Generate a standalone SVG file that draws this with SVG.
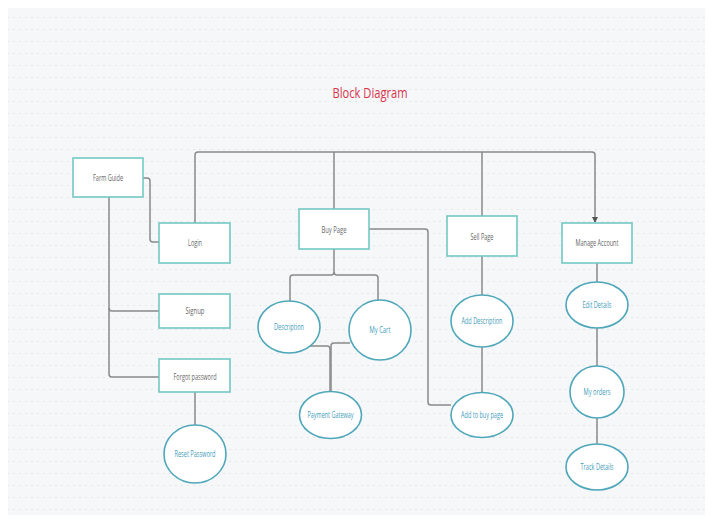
<svg xmlns="http://www.w3.org/2000/svg" width="713" height="526" viewBox="0 0 713 526">
<defs>
<pattern id="dots" x="0" y="0" width="6" height="12" patternUnits="userSpaceOnUse">
<rect x="1" y="5" width="2" height="1" fill="#e4e6ea"/>
</pattern>
<marker id="arr" markerWidth="6" markerHeight="6" refX="5" refY="3" orient="auto" markerUnits="userSpaceOnUse">
<path d="M0,0 L6,3 L0,6 Z" fill="#555"/>
</marker>
<style>
.box{fill:#ffffff;stroke:#72c8c3;stroke-width:1.6}
.ell{fill:#ffffff;stroke:#4fa7ba;stroke-width:1.6}
.bt{font-family:"Open Sans","Liberation Sans",sans-serif;font-size:8.5px;fill:#666;text-anchor:middle}
.et{font-family:"Open Sans","Liberation Sans",sans-serif;font-size:8.5px;fill:#3f9cba;text-anchor:middle}
.ln{fill:none;stroke:#8a8a8a;stroke-width:1.5}
</style>
</defs>
<rect x="0" y="0" width="713" height="526" fill="#ffffff"/>
<rect x="8" y="8" width="697" height="507" fill="#f6f7f9"/>
<rect x="8" y="8" width="697" height="507" fill="url(#dots)"/>
<text x="370" y="98" font-family="'Open Sans','Liberation Sans',sans-serif" font-size="15" fill="#d8344c" text-anchor="middle" textLength="75" lengthAdjust="spacingAndGlyphs">Block Diagram</text>
<g id="connectors">
<path class="ln" d="M143,178 H147 Q150,178 150,181 V239 Q150,242 153,242 H159"/>
<path class="ln" d="M195,223 V155 Q195,152 198,152 H592 Q595,152 595,155 V222" marker-end="url(#arr)"/>
<path class="ln" d="M334,152 V209"/>
<path class="ln" d="M482,152 V216"/>
<path class="ln" d="M109,197 V308 Q109,311 112,311 H159"/>
<path class="ln" d="M109,308 V374 Q109,377 112,377 H159"/>
<path class="ln" d="M195,392 V425"/>
<path class="ln" d="M334,249 V272 Q334,275 331,275 H293 Q290,275 290,278 V301"/>
<path class="ln" d="M334,272 Q334,275 337,275 H375 Q378,275 378,278 V301"/>
<path class="ln" d="M369,229 H425 Q428,229 428,232 V402 Q428,405 431,405 H451"/>
<path class="ln" d="M310,346 H327 Q330,346 330,349 V392"/>
<path class="ln" d="M350,343 H334 Q331,343 331,346 V392"/>
<path class="ln" d="M482,256 V295"/>
<path class="ln" d="M482,347 V393"/>
<path class="ln" d="M597,263 V282"/>
<path class="ln" d="M597,328 V366"/>
<path class="ln" d="M597,418 V444"/>
</g>
<g id="farm-guide"><rect class="box" x="73" y="158" width="70" height="39"/><text class="bt" x="108" y="181" textLength="30" lengthAdjust="spacingAndGlyphs">Farm Guide</text></g>
<g id="login"><rect class="box" x="159" y="223" width="71" height="40"/><text class="bt" x="195" y="246" textLength="14" lengthAdjust="spacingAndGlyphs">Login</text></g>
<g id="signup"><rect class="box" x="159" y="294" width="71" height="34"/><text class="bt" x="195" y="314" textLength="19" lengthAdjust="spacingAndGlyphs">Signup</text></g>
<g id="forgot-password"><rect class="box" x="159" y="359" width="71" height="33"/><text class="bt" x="195" y="380" textLength="43" lengthAdjust="spacingAndGlyphs">Forgot password</text></g>
<g id="reset-password"><ellipse class="ell" cx="195" cy="454" rx="31" ry="29"/><text class="et" x="195" y="457" textLength="41" lengthAdjust="spacingAndGlyphs">Reset Password</text></g>
<g id="buy-page"><rect class="box" x="299" y="209" width="70" height="40"/><text class="bt" x="334" y="233" textLength="25" lengthAdjust="spacingAndGlyphs">Buy Page</text></g>
<g id="description"><ellipse class="ell" cx="289" cy="327" rx="31" ry="26"/><text class="et" x="289" y="330" textLength="30" lengthAdjust="spacingAndGlyphs">Description</text></g>
<g id="my-cart"><ellipse class="ell" cx="380" cy="330" rx="31" ry="30"/><text class="et" x="380" y="333" textLength="21" lengthAdjust="spacingAndGlyphs">My Cart</text></g>
<g id="payment-gateway"><ellipse class="ell" cx="330.5" cy="415" rx="31" ry="23.5"/><text class="et" x="330.5" y="418" textLength="46" lengthAdjust="spacingAndGlyphs">Payment Gateway</text></g>
<g id="sell-page"><rect class="box" x="447" y="216" width="70" height="40"/><text class="bt" x="482" y="240" textLength="23" lengthAdjust="spacingAndGlyphs">Sell Page</text></g>
<g id="add-description"><ellipse class="ell" cx="482" cy="321" rx="31" ry="26"/><text class="et" x="482" y="324" textLength="41" lengthAdjust="spacingAndGlyphs">Add Description</text></g>
<g id="add-to-buy-page"><ellipse class="ell" cx="482" cy="415" rx="31" ry="22.5"/><text class="et" x="482" y="418" textLength="42" lengthAdjust="spacingAndGlyphs">Add to buy page</text></g>
<g id="manage-account"><rect class="box" x="562" y="223" width="70" height="40"/><text class="bt" x="597" y="246" textLength="43" lengthAdjust="spacingAndGlyphs">Manage Account</text></g>
<g id="edit-details"><ellipse class="ell" cx="597" cy="305" rx="31" ry="23"/><text class="et" x="597" y="308" textLength="29" lengthAdjust="spacingAndGlyphs">Edit Details</text></g>
<g id="my-orders"><ellipse class="ell" cx="597" cy="392" rx="27" ry="26"/><text class="et" x="597" y="395" textLength="27" lengthAdjust="spacingAndGlyphs">My orders</text></g>
<g id="track-details"><ellipse class="ell" cx="597" cy="467" rx="31" ry="23"/><text class="et" x="597" y="470" textLength="33" lengthAdjust="spacingAndGlyphs">Track Details</text></g>
</svg>
